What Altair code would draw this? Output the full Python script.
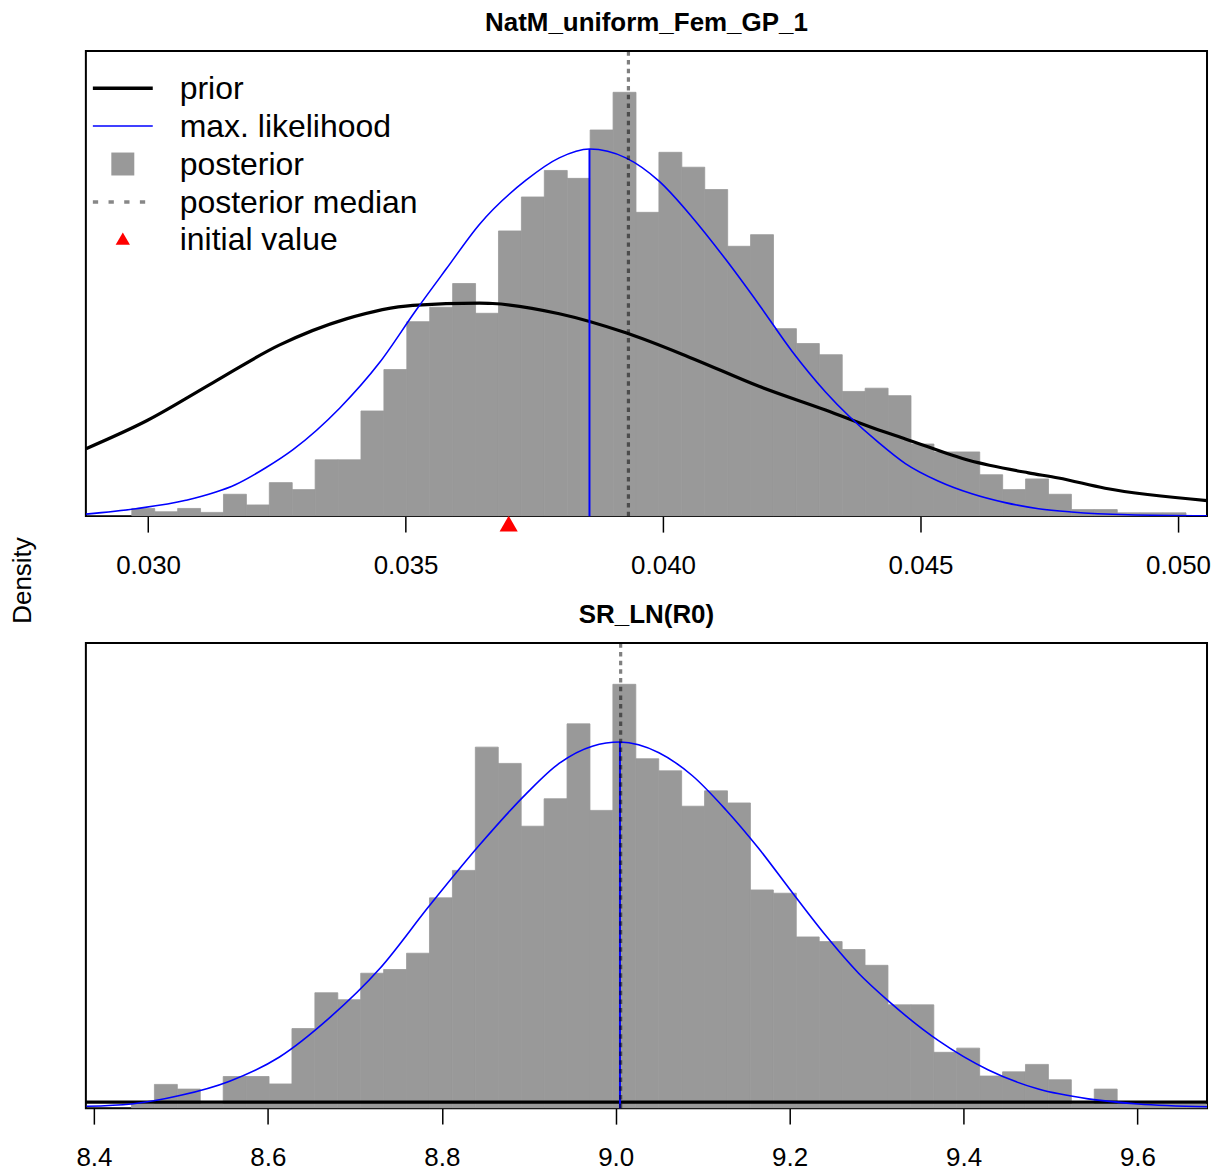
import altair as alt
import pandas as pd

FONT = "Liberation Sans"
W, H = 1123, 466

# ---------------- top panel: NatM_uniform_Fem_GP_1 ----------------
top_title = "NatM_uniform_Fem_GP_1"
top_domain = [0.028792, 0.050562]
top_ticks = [0.030, 0.035, 0.040, 0.045, 0.050]
top_break_start = 0.029684
top_bin_width = 0.000445
top_density = [0.0165, 0.0094, 0.0165, 0.008, 0.047, 0.024, 0.072, 0.057, 0.121, 0.121,
               0.226, 0.315, 0.418, 0.449, 0.500, 0.436, 0.613, 0.686, 0.743, 0.726,
               0.830, 0.911, 0.653, 0.782, 0.750, 0.702, 0.580, 0.605, 0.403, 0.371,
               0.347, 0.268, 0.275, 0.259, 0.155, 0.138, 0.138, 0.089, 0.057, 0.080,
               0.047, 0.014, 0.014, 0.007, 0.007, 0.007]
top_prior_x = [0.028795, 0.029972, 0.031263, 0.032556, 0.033849, 0.035140, 0.036433,
               0.036691, 0.037984, 0.039277, 0.040568, 0.041861, 0.043154, 0.044187,
               0.044705, 0.045932, 0.047095, 0.047677, 0.048582, 0.050565]
top_prior_y = [0.145, 0.205, 0.287, 0.368, 0.424, 0.453, 0.458,
               0.457, 0.435, 0.394, 0.339, 0.279, 0.228, 0.185,
               0.166, 0.120, 0.093, 0.082, 0.060, 0.0335]
top_mle_x = [0.028795, 0.029764, 0.030734, 0.031703, 0.032285, 0.032814, 0.033719,
             0.034495, 0.035206, 0.035788, 0.036433, 0.037338, 0.037984, 0.038571,
             0.039277, 0.039922, 0.040568, 0.041215, 0.041861, 0.042507, 0.043154,
             0.044187, 0.044705, 0.045350, 0.045996, 0.046643, 0.047289, 0.047929,
             0.049034, 0.050565]
top_mle_y = [0.0043, 0.016, 0.034, 0.068, 0.104, 0.143, 0.232,
             0.330, 0.443, 0.531, 0.627, 0.722, 0.770, 0.789,
             0.770, 0.720, 0.642, 0.552, 0.455, 0.354, 0.267,
             0.158, 0.113, 0.075, 0.048, 0.029, 0.016, 0.009,
             0.003, 0.0008]
top_mle = 0.038571
top_mle_peak = 0.789
top_median = 0.039327
top_initial = 0.037002

# ---------------- bottom panel: SR_LN(R0) ----------------
bot_title = "SR_LN(R0)"
bot_domain = [8.3907, 9.6800]
bot_ticks = [8.4, 8.6, 8.8, 9.0, 9.2, 9.4, 9.6]
bot_break_start = 8.44317
bot_bin_width = 0.026361
bot_density = [0.009, 0.051, 0.041, 0.009, 0.068, 0.068, 0.052, 0.171, 0.248, 0.233,
               0.290, 0.298, 0.333, 0.452, 0.511, 0.776, 0.741, 0.606, 0.665, 0.826,
               0.640, 0.911, 0.751, 0.725, 0.649, 0.682, 0.656, 0.469, 0.462, 0.368,
               0.358, 0.341, 0.307, 0.222, 0.222, 0.120, 0.129, 0.069, 0.078, 0.094,
               0.061, 0.009, 0.041, 0.009, 0.009, 0.009, 0.009]
bot_prior_x = [8.3907, 8.70, 9.00, 9.30, 9.6800]
bot_prior_y = [0.013, 0.013, 0.013, 0.013, 0.013]
bot_mle_x = [8.3915, 8.4432, 8.4986, 8.5560, 8.6134, 8.6708, 8.7282, 8.7857, 8.8431,
             8.8967, 8.9349, 8.9731, 9.0049, 9.0497, 9.0879, 9.1263, 9.1645, 9.2028,
             9.2411, 9.2793, 9.3138, 9.3712, 9.4286, 9.4860, 9.5434, 9.6008, 9.6800]
bot_mle_y = [0.004, 0.009, 0.027, 0.058, 0.110, 0.194, 0.299, 0.435, 0.565,
             0.675, 0.741, 0.778, 0.787, 0.764, 0.715, 0.642, 0.558, 0.464,
             0.372, 0.290, 0.230, 0.145, 0.082, 0.041, 0.020, 0.009, 0.003]
bot_mle = 9.0049
bot_mle_peak = 0.787
bot_median = 9.0057

legend_labels = ["prior", "max. likelihood", "posterior", "posterior median", "initial value"]

BAR_GREY = "#999999"


def hist_df(start, width, dens):
    lo = [start + i * width for i in range(len(dens))]
    return pd.DataFrame({"x": lo, "x2": [v + width for v in lo], "y0": 0.0, "y": dens})


def panel(title, domain, ticks, fmt, dens_df, prior_x, prior_y, mle_x, mle_y,
          mle, mle_peak, median, initial=None, ytitle=None, legend=False):
    xs = alt.Scale(domain=domain, nice=False, zero=False)
    ys = alt.Scale(domain=[0, 1], nice=False, zero=False)
    xaxis = alt.Axis(values=ticks, format=fmt, title=None, domain=False, grid=False,
                     tickSize=16, tickWidth=1.5, tickColor="black",
                     labelFontSize=26, labelFont=FONT, labelColor="black",
                     labelPadding=20, labelFlush=False, labelOverlap=False)
    if ytitle:
        yaxis = alt.Axis(title=ytitle, labels=False, ticks=False, domain=False, grid=False,
                         titleFontSize=26, titleFont=FONT, titleFontWeight="normal",
                         titleColor="black", titleX=-50, titleY=530, titleAngle=270)
    else:
        yaxis = None

    bars = alt.Chart(dens_df).mark_rect(
        color=BAR_GREY, stroke=BAR_GREY, strokeWidth=0.8, clip=True
    ).encode(
        x=alt.X("x:Q", scale=xs, axis=xaxis),
        x2="x2:Q",
        y=alt.Y("y0:Q", scale=ys, axis=yaxis),
        y2="y:Q",
    )
    prior = alt.Chart(pd.DataFrame({"x": prior_x, "y": prior_y})).mark_line(
        color="black", strokeWidth=3.2, interpolate="monotone", clip=True
    ).encode(x="x:Q", y="y:Q")
    mle_line = alt.Chart(pd.DataFrame({"x": mle_x, "y": mle_y})).mark_line(
        color="blue", strokeWidth=1.6, interpolate="monotone", clip=True
    ).encode(x="x:Q", y="y:Q")
    mle_rule = alt.Chart(pd.DataFrame({"x": [mle], "y0": [0.0], "y": [mle_peak]})).mark_rule(
        color="blue", strokeWidth=2
    ).encode(x="x:Q", y="y0:Q", y2="y:Q")
    med_rule = alt.Chart(pd.DataFrame({"x": [median], "y0": [0.0], "y": [1.0]})).mark_rule(
        color="black", strokeOpacity=0.5, strokeWidth=3.2, strokeDash=[4.5, 4.2]
    ).encode(x="x:Q", y="y0:Q", y2="y:Q")

    layers = [bars, prior, mle_line, mle_rule, med_rule]

    if initial is not None:
        tri = alt.Chart(pd.DataFrame({"x": [initial], "y": [-0.016]})).mark_point(
            shape="triangle-up", filled=True, color="red", opacity=1, size=330, strokeWidth=0
        ).encode(x="x:Q", y="y:Q")
        layers.append(tri)

    if legend:
        rows = [37.3, 75.3, 113.3, 151.3, 188.0]
        lx0, lx1, lcx, ltx = 7, 67, 37, 94
        layers.append(alt.Chart(pd.DataFrame({"k": [0]})).mark_rule(
            color="black", strokeWidth=3.5).encode(
            x=alt.value(lx0), x2=alt.value(lx1), y=alt.value(rows[0])))
        layers.append(alt.Chart(pd.DataFrame({"k": [0]})).mark_rule(
            color="blue", strokeWidth=1.5).encode(
            x=alt.value(lx0), x2=alt.value(lx1), y=alt.value(rows[1])))
        layers.append(alt.Chart(pd.DataFrame({"k": [0]})).mark_square(
            color=BAR_GREY, filled=True, opacity=1, size=529).encode(
            x=alt.value(lcx), y=alt.value(rows[2])))
        layers.append(alt.Chart(pd.DataFrame({"k": [0]})).mark_rule(
            color="black", strokeOpacity=0.47, strokeWidth=3.5, strokeDash=[5.3, 10.4]).encode(
            x=alt.value(lx0), x2=alt.value(lx1 - 6), y=alt.value(rows[3])))
        layers.append(alt.Chart(pd.DataFrame({"k": [0]})).mark_point(
            shape="triangle-up", filled=True, color="red", opacity=1, size=205, strokeWidth=0).encode(
            x=alt.value(lcx), y=alt.value(rows[4])))
        for lab, ry in zip(legend_labels, rows):
            layers.append(alt.Chart(pd.DataFrame({"label": [lab]})).mark_text(
                align="left", baseline="middle", fontSize=32, font=FONT, color="black").encode(
                x=alt.value(ltx), y=alt.value(ry + 1), text="label:N"))

    return alt.layer(*layers).properties(
        width=W, height=H,
        title=alt.TitleParams(text=title, offset=-8, baseline="alphabetic", anchor="middle",
                              font=FONT, fontSize=26, fontWeight="bold", color="black"),
    )


top = panel(top_title, top_domain, top_ticks, ".3f",
            hist_df(top_break_start, top_bin_width, top_density),
            top_prior_x, top_prior_y, top_mle_x, top_mle_y,
            top_mle, top_mle_peak, top_median, initial=top_initial,
            ytitle="Density", legend=True)

bottom = panel(bot_title, bot_domain, bot_ticks, ".1f",
               hist_df(bot_break_start, bot_bin_width, bot_density),
               bot_prior_x, bot_prior_y, bot_mle_x, bot_mle_y,
               bot_mle, bot_mle_peak, bot_median)

chart = alt.vconcat(top, bottom, spacing=127, bounds="flush").properties(
    padding={"left": 1, "right": 5, "top": 0, "bottom": 5}
).configure_view(stroke="black", strokeWidth=2).configure_axis(grid=False)

chart.save("out.html", embed_options={"renderer": "svg", "actions": False})
